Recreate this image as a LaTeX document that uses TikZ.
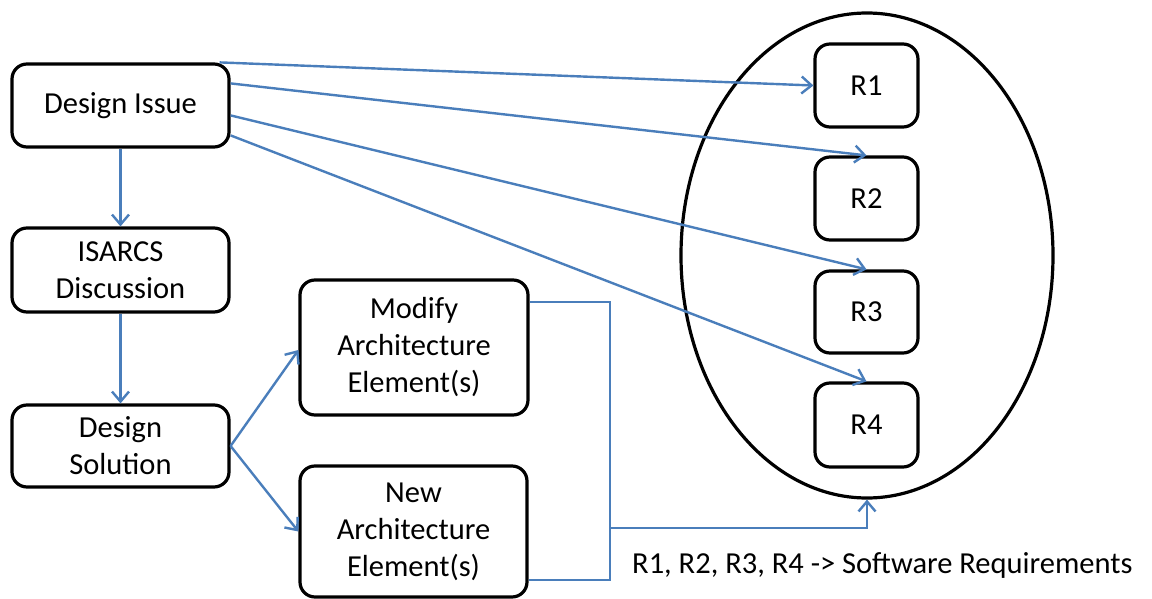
\documentclass[tikz,border=0pt]{standalone}
\usepackage{fontspec}
\setmainfont{Carlito}
\usetikzlibrary{arrows.meta,shapes.geometric,calc}
\definecolor{linkblue}{HTML}{4A7EBB}
\begin{document}
\begin{tikzpicture}[x=1pt,y=-1pt,
  box/.style={draw=black,line width=3.2pt,rounded corners=15pt,fill=white,inner sep=0pt,align=center,
    font=\fontsize{30.5}{37}\selectfont},
  conn/.style={draw=linkblue,line width=2.4pt,-{Straight Barb[length=10pt,width=17pt,line width=2.4pt]}},
  plain/.style={draw=linkblue,line width=2.4pt}]
\useasboundingbox (0,0) rectangle (1152,599);
% ellipse
\node[ellipse,draw=black,line width=3.2pt,minimum width=372pt,minimum height=485pt,inner sep=0pt] (ell) at (867,255.5) {};
% left boxes
\node[box,minimum width=217pt,minimum height=83pt] (di) at (120.5,105.5) {Design Issue};
\node[box,minimum width=217pt,minimum height=84pt] (isarcs) at (120.5,270) {ISARCS\\Discussion};
\node[box,minimum width=217pt,minimum height=82pt] (ds) at (120.5,446) {Design\\Solution};
\node[box,minimum width=228pt,minimum height=135pt] (mod) at (414,347.5) {Modify\\Architecture\\Element(s)};
\node[box,minimum width=227pt,minimum height=131pt] (new) at (413.5,531.5) {New\\Architecture\\Element(s)};
% requirement boxes
\node[box,minimum width=103pt,minimum height=83pt] (r1) at (866.5,85.5) {R1};
\node[box,minimum width=103pt,minimum height=83pt] (r2) at (866.5,198.5) {R2};
\node[box,minimum width=103pt,minimum height=82pt] (r3) at (866.5,312) {R3};
\node[box,minimum width=103pt,minimum height=84pt] (r4) at (866.5,425) {R4};
% note
\node[anchor=base west,inner sep=0pt,font=\fontsize{30.5}{37}\selectfont] (note) at (632,573.5) {R1, R2, R3, R4 -> Software Requirements};
% vertical flow
\draw[conn] (di.south) -- (isarcs.north);
\draw[conn] (isarcs.south) -- (ds.north);
\draw[conn] (ds.east) -- ($(mod.west)+(0,2.5)$);
\draw[conn] (ds.east) -- (new.west);
% design issue to requirements
\draw[conn] ($(di.north east)+(-11,0)$) -- (r1.west);
\draw[conn] ($(di.north east)+(0,21)$) -- (r2.north);
\draw[conn] ($(di.north east)+(0,53)$) -- (r3.north);
\draw[conn] ($(di.north east)+(0,73)$) -- (r4.north);
% bracket to ellipse
\coordinate (j1) at (610,302);
\coordinate (j2) at (610,580);
\coordinate (j3) at (610,528);
\coordinate (j4) at (ell.south |- j3);
\draw[plain] (mod.east |- j1) -- (j1) -- (j2) -- (new.east |- j2);
\draw[conn] (j3) -- (j4) -- (ell.south);
\end{tikzpicture}
\end{document}
